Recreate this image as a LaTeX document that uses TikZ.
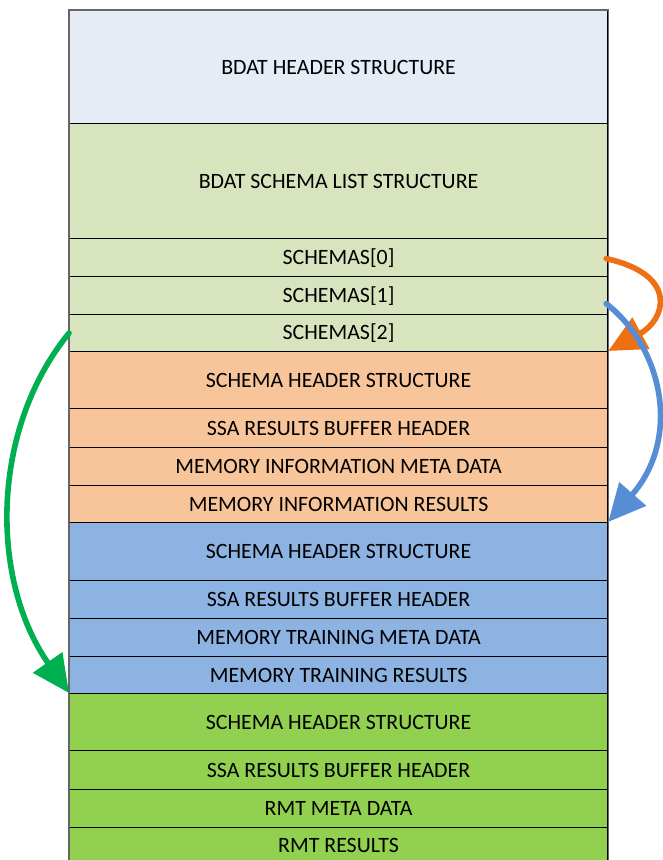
\documentclass[tikz,border=0pt]{standalone}
\usepackage{fontspec}
\setmainfont{Carlito}
\usetikzlibrary{arrows.meta}
\definecolor{cHead}{HTML}{E6ECF6}
\definecolor{cList}{HTML}{D8E4BE}
\definecolor{cOr}{HTML}{F8C59A}
\definecolor{cBl}{HTML}{8DB3E2}
\definecolor{cGr}{HTML}{92D050}
\definecolor{aOr}{HTML}{ED7014}
\definecolor{aBl}{HTML}{558ED5}
\definecolor{aGr}{HTML}{00B050}
\tikzset{
  rowbox/.style={draw=black, line width=0.9pt, anchor=north west, minimum width=403.5pt, inner sep=0pt, font=\fontsize{16.4pt}{19pt}\selectfont, text=black},
  ptr/.style={line width=4.2pt, line cap=round, -{Triangle[length=28pt,width=26pt]}},
}
\begin{document}
\begin{tikzpicture}[x=0.75pt,y=-0.75pt]
\useasboundingbox (0,0) rectangle (663,860);
\clip (0,0) rectangle (663,860);
\fill[white] (0,0) rectangle (663,860);
\node[rowbox, fill=cHead, minimum height=113*0.75pt] (bh) at (69,10) {BDAT HEADER STRUCTURE};
\node[rowbox, fill=cList, minimum height=115*0.75pt] (bl) at (69,123) {BDAT SCHEMA LIST STRUCTURE};
\node[rowbox, fill=cList, minimum height=38*0.75pt] (s0) at (69,238) {SCHEMAS[0]};
\node[rowbox, fill=cList, minimum height=38*0.75pt] (s1) at (69,276) {SCHEMAS[1]};
\node[rowbox, fill=cList, minimum height=37*0.75pt] (s2) at (69,314) {SCHEMAS[2]};
\node[rowbox, fill=cOr, minimum height=57*0.75pt] (oh) at (69,351) {SCHEMA HEADER STRUCTURE};
\node[rowbox, fill=cOr, minimum height=39*0.75pt] (os) at (69,408) {SSA RESULTS BUFFER HEADER};
\node[rowbox, fill=cOr, minimum height=38*0.75pt] (om) at (69,447) {MEMORY INFORMATION META DATA};
\node[rowbox, fill=cOr, minimum height=37*0.75pt] (or) at (69,485) {MEMORY INFORMATION RESULTS};
\node[rowbox, fill=cBl, minimum height=58*0.75pt] (uh) at (69,522) {SCHEMA HEADER STRUCTURE};
\node[rowbox, fill=cBl, minimum height=38*0.75pt] (us) at (69,580) {SSA RESULTS BUFFER HEADER};
\node[rowbox, fill=cBl, minimum height=38*0.75pt] (um) at (69,618) {MEMORY TRAINING META DATA};
\node[rowbox, fill=cBl, minimum height=37*0.75pt] (ur) at (69,656) {MEMORY TRAINING RESULTS};
\node[rowbox, fill=cGr, minimum height=57*0.75pt] (gh) at (69,693) {SCHEMA HEADER STRUCTURE};
\node[rowbox, fill=cGr, minimum height=39*0.75pt] (gs) at (69,750) {SSA RESULTS BUFFER HEADER};
\node[rowbox, fill=cGr, minimum height=38*0.75pt] (gm) at (69,789) {RMT META DATA};
\node[rowbox, fill=cGr, minimum height=35*0.75pt] (gr) at (69,827) {RMT RESULTS};
\draw[gray!80!black, line width=1pt] (gr.south west) -- (bh.north west) -- (bh.north east) -- (gr.south east);
\draw[ptr, aOr] ([xshift=-1.5pt,yshift=-0.75pt]s0.east) .. controls (680,275) and (665,320) .. (oh.north east);
\draw[ptr, aBl] ([xshift=-1.5pt,yshift=-6pt]s1.east) .. controls (665,350) and (680,440) .. (uh.north east);
\draw[ptr, aGr] (s2.west) .. controls (-10,430) and (-10,580) .. (gh.north west);
\end{tikzpicture}
\end{document}
